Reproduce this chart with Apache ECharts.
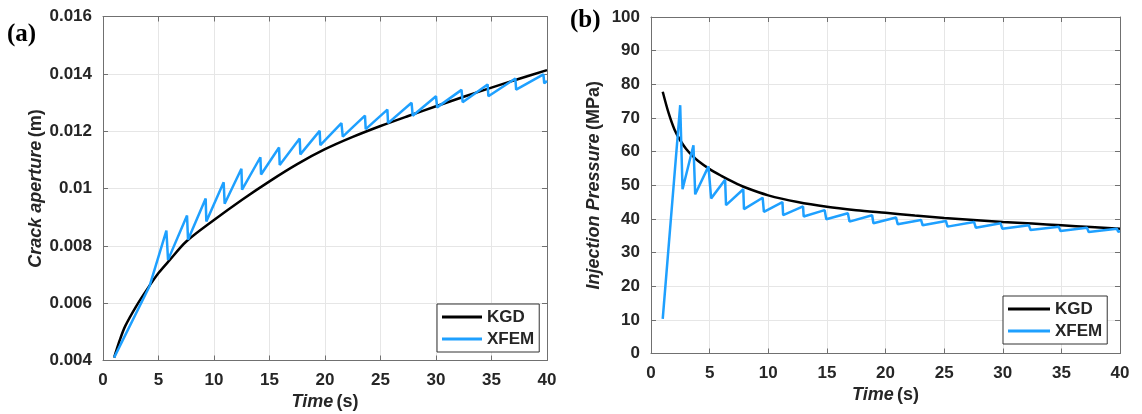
<!DOCTYPE html>
<html>
<head>
<meta charset="utf-8">
<script src="https://cdn.jsdelivr.net/npm/echarts@6/dist/echarts.min.js"></script>
<style>
  html, body { margin: 0; padding: 0; background: #fff; }
  #main { width: 1142px; height: 414px; }
</style>
</head>
<body>
<div id="main"></div>
<script>
// (a) 裂缝开度 - KGD 解析解
const kgdTimeA = [1, 1.5, 2, 3, 4, 5, 6, 7.5, 10, 12.5, 15, 17.5, 20, 22.5, 25, 27.5, 30, 32.5, 35, 37.5, 40];
const kgdApertureA = [0.0041, 0.0047, 0.0052, 0.0059, 0.0065, 0.00705, 0.0075, 0.00815, 0.0089, 0.0096, 0.01025, 0.01085, 0.01137, 0.0118, 0.01218, 0.01253, 0.01287, 0.0132, 0.01352, 0.01383, 0.01413];
// (a) 裂缝开度 - XFEM
const xfemTimeA = [1, 4.2, 5.71, 5.86, 7.57, 7.66, 9.25, 9.31, 10.87, 10.96, 12.47, 12.53, 14.18, 14.24, 15.86, 15.92, 17.72, 17.78, 19.52, 19.58, 21.48, 21.6, 23.6, 23.67, 25.62, 25.68, 27.8, 27.9, 30.0, 30.1, 32.3, 32.4, 34.65, 34.72, 37.15, 37.22, 39.68, 39.75, 40];
const xfemApertureA = [0.0041, 0.0066, 0.00853, 0.00751, 0.00906, 0.00821, 0.00965, 0.00885, 0.01022, 0.00947, 0.01069, 0.00996, 0.01109, 0.01049, 0.01143, 0.01082, 0.01174, 0.01119, 0.01201, 0.01151, 0.01228, 0.01181, 0.01254, 0.01207, 0.01275, 0.01228, 0.01299, 0.01254, 0.01322, 0.01283, 0.01344, 0.01301, 0.01363, 0.01322, 0.01384, 0.01345, 0.01398, 0.01367, 0.01375];

// (b) 注入压力 - KGD
const kgdTimeB = [1, 1.5, 2, 2.5, 3, 3.5, 4, 5, 6, 7, 8, 10, 12.5, 15, 17.5, 20, 22.5, 25, 27.5, 30, 32.5, 35, 37.5, 40];
const kgdPressureB = [77.8, 71.5, 66.6, 63.3, 60.8, 58.9, 57.3, 54.8, 52.8, 51.0, 49.4, 47.0, 45.0, 43.6, 42.6, 41.8, 41.0, 40.3, 39.7, 39.1, 38.6, 38.1, 37.6, 37.1];
// (b) 注入压力 - XFEM
const xfemTimeB = [1, 2.49, 2.69, 3.62, 3.77, 4.9, 5.13, 6.32, 6.4, 7.87, 7.93, 9.52, 9.63, 11.21, 11.27, 12.97, 13.02, 14.81, 14.95, 16.79, 16.93, 18.86, 18.97, 20.9, 21.04, 23.03, 23.17, 25.15, 25.29, 27.55, 27.7, 29.82, 29.96, 32.23, 32.37, 34.78, 34.92, 37.18, 37.33, 39.73, 39.85, 40];
const xfemPressureB = [10.3, 73.8, 48.8, 61.9, 47.3, 55.6, 46.1, 51.6, 44.1, 48.8, 42.9, 46.3, 42.1, 45.0, 41.1, 43.7, 40.7, 42.6, 39.9, 41.7, 39.2, 41.1, 38.7, 40.4, 38.4, 39.7, 38.1, 39.4, 37.7, 39.1, 37.4, 38.7, 37.1, 38.1, 36.7, 37.7, 36.4, 37.4, 36.1, 37.1, 36.2, 36.3];

// 刻度标签
const timeTicks = ['0', '5', '10', '15', '20', '25', '30', '35', '40'];
const apertureTicks = ['0.004', '0.006', '0.008', '0.01', '0.012', '0.014', '0.016'];
const pressureTicks = ['0', '10', '20', '30', '40', '50', '60', '70', '80', '90', '100'];

const zip = (xs, ys) => xs.map((x, i) => [x, ys[i]]);

const FONT = '"Liberation Sans", Arial, sans-serif';
const TXT = '#262626';
const AXIS = '#707070';
const GRIDC = '#e6e6e6';
const BLUE = '#1ea0ff';

const nameRich = {
	it: { fontFamily: FONT, fontSize: 18, fontWeight: 'bold', fontStyle: 'italic', color: TXT },
	rm: { fontFamily: FONT, fontSize: 18, fontWeight: 'bold', color: TXT }
};

// 主坐标轴
function mainX(gridIndex, name) {
	return {
		type: 'value', gridIndex: gridIndex, min: 0, max: 40, interval: 5,
		name: name, nameLocation: 'middle', nameGap: 33,
		nameTextStyle: { rich: nameRich },
		axisLine: { show: true, lineStyle: { color: AXIS, width: 1 } },
		axisTick: { show: true, inside: true, length: 5, lineStyle: { color: AXIS } },
		axisLabel: {
			margin: 11, fontFamily: FONT, fontSize: 17, fontWeight: 'bold', color: TXT,
			formatter: (v) => timeTicks[Math.round(v / 5)]
		},
		splitLine: { show: true, lineStyle: { color: GRIDC, width: 1 } }
	};
}
function mainY(gridIndex, name, min, max, step, ticks, gap) {
	return {
		type: 'value', gridIndex: gridIndex, min: min, max: max, interval: step,
		name: name, nameLocation: 'middle', nameGap: gap,
		nameTextStyle: { rich: nameRich },
		axisLine: { show: true, lineStyle: { color: AXIS, width: 1 } },
		axisTick: { show: true, inside: true, length: 5, lineStyle: { color: AXIS } },
		axisLabel: {
			margin: 11, fontFamily: FONT, fontSize: 17, fontWeight: 'bold', color: TXT,
			formatter: (v) => ticks[Math.round((v - min) / step)]
		},
		splitLine: { show: true, lineStyle: { color: GRIDC, width: 1 } }
	};
}
// 边框（上、右）
function boxAxis(gridIndex, pos, min, max, step) {
	return {
		type: 'value', gridIndex: gridIndex, position: pos, min: min, max: max, interval: step,
		axisLine: { show: true, onZero: false, lineStyle: { color: AXIS, width: 1 } },
		axisTick: { show: true, inside: true, length: 5, lineStyle: { color: AXIS } },
		axisLabel: { show: false },
		splitLine: { show: false }
	};
}

function legendBox(left, top, w) {
	return {
		left: left, top: top, orient: 'vertical',
		data: [{ name: 'KGD', icon: 'rect' }, { name: 'XFEM', icon: 'rect' }],
		itemWidth: w, itemHeight: 3, itemGap: 2, itemTextGap: 5,
		padding: [3, 5, 3, 5],
		backgroundColor: '#fff', borderColor: '#333', borderWidth: 1, borderRadius: 0,
		selectedMode: false,
		textStyle: { fontFamily: FONT, fontSize: 17, fontWeight: 'bold', color: TXT, lineHeight: 20 }
	};
}

const chart = echarts.init(document.getElementById('main'), null, { renderer: 'canvas' });

chart.setOption({
	animation: false,
	backgroundColor: '#fff',
	grid: [
		{ left: 103, top: 16.5, width: 444, height: 344, containLabel: false, outerBoundsMode: 'none' },
		{ left: 651, top: 17, width: 469, height: 336.5, containLabel: false, outerBoundsMode: 'none' }
	],
	xAxis: [
		mainX(0, '{it|Time} {rm|(s)}'),
		mainX(1, '{it|Time} {rm|(s)}'),
		boxAxis(0, 'top', 0, 40, 5),
		boxAxis(1, 'top', 0, 40, 5)
	],
	yAxis: [
		mainY(0, '{it|Crack aperture} {rm|(m)}', 0.004, 0.016, 0.002, apertureTicks, 58),
		mainY(1, '{it|Injection Pressure} {rm|(MPa)}', 0, 100, 10, pressureTicks, 48),
		boxAxis(0, 'right', 0.004, 0.016, 0.002),
		boxAxis(1, 'right', 0, 100, 10)
	],
	legend: [legendBox(437, 304, 40), legendBox(1003, 296, 42)],
	graphic: [
		{ type: 'text', left: 7, top: 22, style: { text: '(a)', font: 'bold 25px "Liberation Serif", "Times New Roman", serif', fill: '#000' } },
		{ type: 'text', left: 570, top: 8, style: { text: '(b)', font: 'bold 25px "Liberation Serif", "Times New Roman", serif', fill: '#000' } }
	],
	series: [
		{
			name: 'KGD', type: 'line', xAxisIndex: 0, yAxisIndex: 0, data: zip(kgdTimeA, kgdApertureA),
			smooth: 0.3, showSymbol: false, color: '#000', lineStyle: { color: '#000', width: 2.5 }, z: 3
		},
		{
			name: 'XFEM', type: 'line', xAxisIndex: 0, yAxisIndex: 0, data: zip(xfemTimeA, xfemApertureA),
			showSymbol: false, color: BLUE, lineStyle: { color: BLUE, width: 2.5 }, z: 4
		},
		{
			name: 'KGD', type: 'line', xAxisIndex: 1, yAxisIndex: 1, data: zip(kgdTimeB, kgdPressureB),
			smooth: 0.3, showSymbol: false, color: '#000', lineStyle: { color: '#000', width: 2.5 }, z: 3
		},
		{
			name: 'XFEM', type: 'line', xAxisIndex: 1, yAxisIndex: 1, data: zip(xfemTimeB, xfemPressureB),
			showSymbol: false, color: BLUE, lineStyle: { color: BLUE, width: 2.5 }, z: 4
		}
	]
});
</script>
</body>
</html>
